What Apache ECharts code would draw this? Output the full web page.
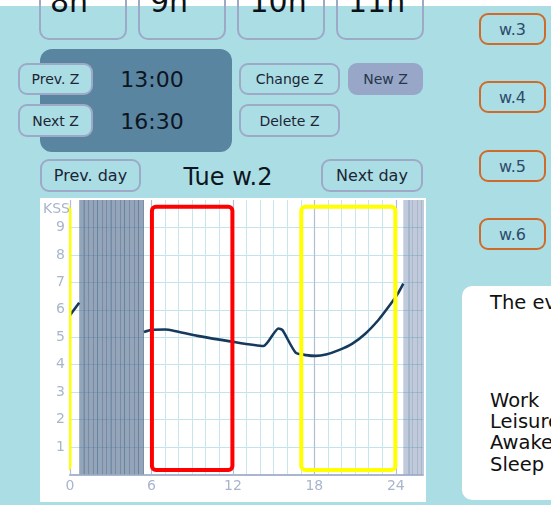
<!DOCTYPE html>
<html>
<head>
<meta charset="utf-8">
<script src="https://cdn.jsdelivr.net/npm/echarts@6/dist/echarts.min.js"></script>
<style>
html,body{margin:0;padding:0;}
body{width:551px;height:505px;overflow:hidden;background:#abdde4;position:relative;
  font-family:"DejaVu Sans",Verdana,sans-serif;color:#1c2535;}
.abs{position:absolute;box-sizing:border-box;}
.strip{left:0;top:0;width:551px;height:6px;background:#ffffff;}
.hourbox{position:absolute;box-sizing:border-box;top:-40px;height:80px;width:88px;
  border:2px solid #9ea9c8;border-radius:10px;}
.hourtxt{position:absolute;top:-13px;height:30px;line-height:30px;font-size:30px;color:#0d1218;white-space:nowrap;z-index:3;}
.btn{position:absolute;box-sizing:border-box;border:2px solid #9ea9c8;border-radius:9px;
  display:flex;align-items:center;justify-content:center;font-size:14px;color:#1c2535;
  background:#abdde4;white-space:nowrap;}
.day{font-size:16px;}
.wbtn{position:absolute;box-sizing:border-box;left:479px;width:67px;height:32px;border:2px solid #cf6a2a;
  border-radius:9px;display:flex;align-items:center;justify-content:center;font-size:16px;color:#2e4b6c;}
.panel{left:40px;top:49px;width:192px;height:103px;background:#5985a1;border-radius:12px;}
.time{position:absolute;left:100px;width:104px;height:22px;line-height:22px;font-size:22px;text-align:center;color:#0d1520;}
.info{left:462px;top:286px;width:120px;height:214px;background:#ffffff;border-radius:10px;}
.itxt{position:absolute;left:490px;font-size:19.5px;height:22px;line-height:22px;color:#111;white-space:nowrap;}
#chart{position:absolute;left:40px;top:198px;width:386px;height:304px;background:#fff;}
</style>
</head>
<body>
<div class="abs strip"></div>
<div class="hourbox" style="left:39px"></div>
<div class="hourbox" style="left:138px"></div>
<div class="hourbox" style="left:237px"></div>
<div class="hourbox" style="left:336px"></div>
<div class="hourtxt" style="left:50px">8h</div>
<div class="hourtxt" style="left:150px">9h</div>
<div class="hourtxt" style="left:249.5px">10h</div>
<div class="hourtxt" style="left:348px">11h</div>

<div class="abs panel"></div>
<div class="btn" style="left:18px;top:63px;width:75px;height:32px;">Prev. Z</div>
<div class="btn" style="left:18px;top:104px;width:75px;height:33px;">Next Z</div>
<div class="time" style="top:69px;">13:00</div>
<div class="time" style="top:110.5px;">16:30</div>
<div class="btn" style="left:239px;top:63px;width:101px;height:32px;">Change Z</div>
<div class="btn" style="left:348px;top:63px;width:75px;height:32px;background:#98a7c8;border-color:#98a7c8;color:#26364c;">New Z</div>
<div class="btn" style="left:239px;top:104px;width:101px;height:33px;">Delete Z</div>
<div class="btn day" style="left:40px;top:159px;width:101px;height:33px;">Prev. day</div>
<div class="abs" style="left:128px;top:164.5px;width:200px;height:24px;line-height:24px;font-size:24px;text-align:center;color:#0d1520;">Tue w.2</div>
<div class="btn day" style="left:321px;top:159px;width:102px;height:33px;">Next day</div>

<div class="wbtn" style="top:13px;">w.3</div>
<div class="wbtn" style="top:81px;">w.4</div>
<div class="wbtn" style="top:150px;">w.5</div>
<div class="wbtn" style="top:218px;">w.6</div>

<div class="abs info"></div>
<div class="itxt" style="top:292px;">The ev</div>
<div class="itxt" style="top:389.5px;">Work</div>
<div class="itxt" style="top:410.5px;">Leisure</div>
<div class="itxt" style="top:432px;">Awake</div>
<div class="itxt" style="top:454px;">Sleep</div>

<div id="chart"></div>

<script>
// ---- data (hours of the day, KSS sleepiness) ----
const kssBeforeSleep = [[0, 5.8], [0.68, 6.26]];
const kssAfterWake = [
  [5.45, 5.19], [6.0, 5.27], [7.0, 5.28], [7.7, 5.23], [9.4, 5.05], [11.8, 4.85],
  [14.25, 4.68], [15.35, 5.32], [15.65, 5.26], [16.62, 4.44], [17.4, 4.35],
  [18.1, 4.32], [18.85, 4.37], [19.8, 4.53], [20.8, 4.77], [21.75, 5.13],
  [22.7, 5.62], [23.45, 6.1], [24.15, 6.59], [24.55, 6.95]
];
const sleepLogged = [[0.68, 5.45]];
const sleepPlanned = [[24.55, 30]];
const workPeriods = [[6, 12]];
const leisurePeriods = [[-7, 0], [17, 24]];
const hourTickLabels = [0, 6, 12, 18, 24];
const kssTickLabels = [1, 2, 3, 4, 5, 6, 7, 8, 9];

const chart = echarts.init(document.getElementById('chart'));

function bandRenderer(fill, stripe) {
  return function (params, api) {
    const cs = params.coordSys;
    const x0 = api.coord([api.value(0), 0])[0];
    const x1 = api.coord([api.value(1), 0])[0];
    const children = [{
      type: 'rect',
      shape: { x: x0, y: cs.y, width: x1 - x0, height: cs.height },
      style: { fill: fill }
    }];
    const step = api.size([1 / 3, 0])[0];
    for (let x = x0 + step; x < x1 - 1; x += step) {
      const xx = Math.round(x) + 0.5;
      children.push({
        type: 'line',
        shape: { x1: xx, y1: cs.y, x2: xx, y2: cs.y + cs.height },
        style: { stroke: stripe, lineWidth: 1 }
      });
    }
    return { type: 'group', children: children };
  };
}

function frameRenderer(color) {
  return function (params, api) {
    const cs = params.coordSys;
    const x0 = api.coord([api.value(0), 0])[0];
    const x1 = api.coord([api.value(1), 0])[0];
    const top = cs.y + 6.7;
    const bottom = cs.y + cs.height - 4.5;
    return {
      type: 'rect',
      shape: { x: x0 + 0.5, y: top, width: x1 - x0 - 1, height: bottom - top, r: 4 },
      style: { fill: 'rgba(0,0,0,0)', stroke: color, lineWidth: 4 }
    };
  };
}

const labelColor = '#a9b5cd';
const minorColor = '#c7e6ee';
const majorColor = '#b3bdd3';

chart.setOption({
  animation: false,
  backgroundColor: '#ffffff',
  textStyle: { fontFamily: 'DejaVu Sans' },
  grid: { left: 27, top: 2, width: 359, height: 274.5 },
  xAxis: [{
    type: 'value', min: 0, max: 26, interval: 1,
    axisLine: { show: true, lineStyle: { color: '#aab6cf', width: 2 } },
    axisTick: { show: false },
    axisLabel: {
      color: labelColor, fontSize: 14, margin: 5,
      formatter: function (v) { return hourTickLabels.indexOf(v) >= 0 ? String(v) : ''; }
    },
    splitLine: { show: true, showMaxLine: false, lineStyle: { color: minorColor, width: 1 } }
  }, {
    type: 'value', min: 0, max: 26, interval: 6, z: 1,
    position: 'bottom',
    axisLine: { show: false }, axisTick: { show: false }, axisLabel: { show: false },
    splitLine: { show: true, showMaxLine: false, lineStyle: { color: majorColor, width: 1.2 } }
  }],
  yAxis: {
    type: 'value', min: 0, max: 10, interval: 1,
    name: 'KSS', nameLocation: 'end', nameGap: -9,
    nameTextStyle: { color: labelColor, fontSize: 14, align: 'right', verticalAlign: 'middle' },
    axisLine: { show: false }, axisTick: { show: false },
    axisLabel: {
      color: labelColor, fontSize: 14, margin: 5,
      formatter: function (v) { return kssTickLabels.indexOf(v) >= 0 ? String(v) : ''; }
    },
    splitLine: { show: true, showMinLine: false, showMaxLine: false, lineStyle: { color: '#c3e4ec', width: 1 } }
  },
  series: [
    { type: 'custom', name: 'Sleep', data: sleepLogged, clip: true, silent: true, z: 2,
      encode: { x: [0, 1] }, renderItem: bandRenderer('rgba(70,98,135,0.58)', 'rgba(45,75,110,0.28)') },
    { type: 'custom', name: 'Sleep planned', data: sleepPlanned, clip: true, silent: true, z: 2,
      encode: { x: [0, 1] }, renderItem: bandRenderer('rgba(90,115,160,0.38)', 'rgba(70,95,140,0.18)') },
    { type: 'line', name: 'KSS', data: kssBeforeSleep, showSymbol: false, silent: true, z: 3, clip: true,
      lineStyle: { color: '#163a5e', width: 2.6 } },
    { type: 'line', name: 'KSS', data: kssAfterWake, showSymbol: false, silent: true, z: 3, clip: true,
      smooth: 0.2, lineStyle: { color: '#163a5e', width: 2.6 } },
    { type: 'custom', name: 'Work', data: workPeriods, clip: true, silent: true, z: 4,
      encode: { x: [0, 1] }, renderItem: frameRenderer('#ff0000') },
    { type: 'custom', name: 'Leisure', data: leisurePeriods, clip: true, silent: true, z: 4,
      encode: { x: [0, 1] }, renderItem: frameRenderer('#ffff00') }
  ]
});
</script>
</body>
</html>
